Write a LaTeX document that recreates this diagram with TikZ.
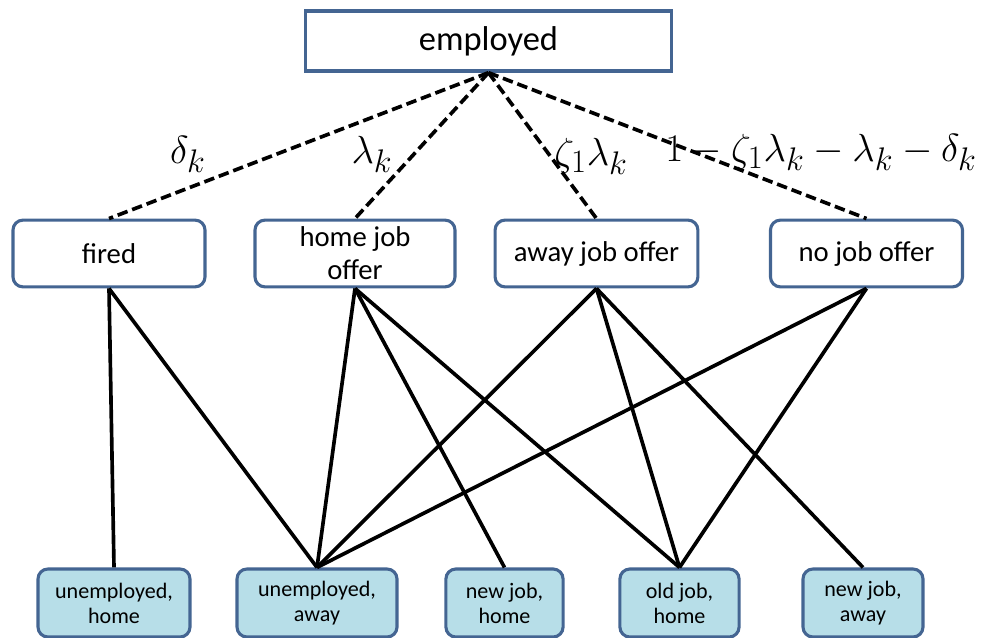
\documentclass[tikz,border=0pt]{standalone}
\usepackage{fontspec}
\setmainfont{Carlito}
\usepackage{tikz}
\usetikzlibrary{arrows.meta, positioning}

\definecolor{boxline}{RGB}{68,101,146}
\definecolor{boxfill}{RGB}{183,222,232}
\newcommand{\biglab}[1]{\scalebox{1.12}{$#1$}}

\begin{document}
\begin{tikzpicture}[x=0.025cm, y=-0.025cm,
    topbox/.style={draw=boxline, line width=2.4pt, minimum width=9.15cm, minimum height=1.5cm,
      font=\fontsize{24.5}{28}\selectfont},
    offerbox/.style={draw=boxline, line width=2.2pt, rounded corners=0.25cm, fill=white,
      minimum width=4.8cm, minimum height=1.67cm, align=center, inner sep=1pt,
      font=\fontsize{20.4}{23.5}\selectfont},
    outbox/.style={draw=boxline, line width=2.2pt, rounded corners=0.25cm, fill=boxfill,
      minimum height=1.7cm, align=center, inner sep=1pt,
      font=\fontsize{15.7}{17.8}\selectfont},
    prob/.style={line width=2.6pt, dash pattern=on 7.5pt off 3.5pt},
    link/.style={line width=2.6pt},
    lab/.style={font=\fontsize{24.88}{30}\selectfont}]
  \useasboundingbox (0,0) rectangle (982,638);
  % top state
  \node[topbox] (emp) at (488.5,41) {employed};
  % offers
  \node[offerbox] (fired) at (109,253.5) {fired};
  \node[offerbox, minimum width=5cm] (home) at (355,253.5) {home job\\offer};
  \node[offerbox, minimum width=5.07cm] (away) at (596.5,253.5) {away job offer};
  \node[offerbox] (none) at (866.5,253.5) {no job offer};
  % outcomes
  \node[outbox, minimum width=3.8cm] (uh) at (114,603) {unemployed,\\home};
  \node[outbox, minimum width=4cm] (ua) at (317,603) {unemployed,\\away};
  \node[outbox, minimum width=2.93cm] (nh) at (504.5,603) {new job,\\home};
  \node[outbox, minimum width=2.98cm] (oh) at (679.5,603) {old job,\\home};
  \node[outbox, minimum width=3cm] (na) at (863,603) {new job,\\away};
  % probabilities
  \foreach \t in {fired, home, away, none}
    \draw[prob] (emp.south) -- (\t.north);
  \node[lab] (pf) at (188,154) {\biglab{\delta_k}};
  \node[lab] (ph) at (372,154) {\biglab{\lambda_k}};
  \node[lab] (pa) at (591,156) {\biglab{\zeta_1\lambda_k}};
  \node[lab] (pn) at (821,152) {\biglab{1-\zeta_1\lambda_k-\lambda_k-\delta_k}};
  % transitions
  \foreach \a/\b in {fired/uh, fired/ua, home/ua, home/nh, home/oh,
                     away/ua, away/oh, away/na, none/ua, none/oh}
    \draw[link] (\a.south) -- (\b.north);
\end{tikzpicture}
\end{document}
